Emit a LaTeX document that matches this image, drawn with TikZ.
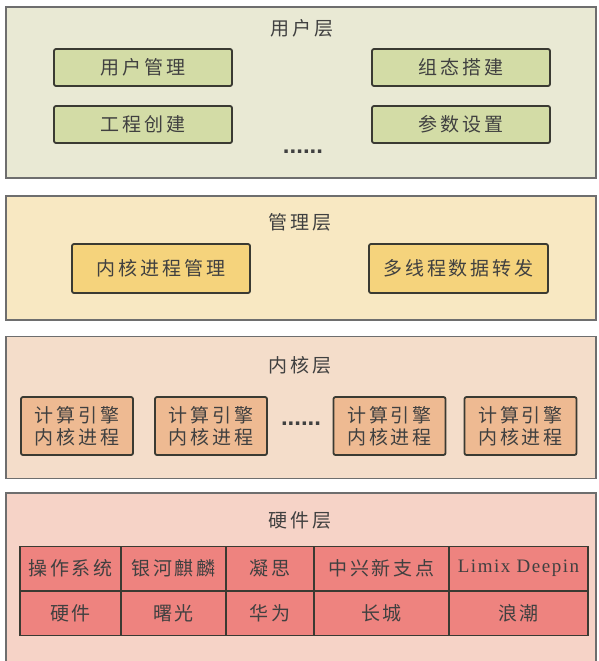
\documentclass[tikz,border=0pt]{standalone}
\usepackage{fontspec}
\newfontfamily\cjk[LetterSpace=15]{Noto Sans CJK SC}
\newfontfamily\latinser[LetterSpace=8]{Liberation Serif}
\newfontfamily\dotfont{Liberation Sans}
\definecolor{txt}{HTML}{404040}
\definecolor{laybd}{HTML}{6E6E6E}
\definecolor{boxbd}{HTML}{3A3A32}
\definecolor{lay1}{HTML}{E9E9D4}
\definecolor{box1}{HTML}{D3DCA6}
\definecolor{lay2}{HTML}{F8E8C2}
\definecolor{box2}{HTML}{F5D37C}
\definecolor{lay3}{HTML}{F4DDCA}
\definecolor{box3}{HTML}{EEBA92}
\definecolor{lay4}{HTML}{F6D3C7}
\definecolor{box4}{HTML}{EE837F}
\begin{document}
\begin{tikzpicture}[x=1pt,y=-1pt,
  layer/.style={draw=laybd,line width=1.6pt,inner sep=0pt},
  title/.style={text=txt,font=\cjk\fontsize{19}{22}\selectfont},
  ubox/.style={draw=boxbd,line width=1.8pt,rounded corners=2pt,inner sep=0pt,
    text=txt,font=\cjk\fontsize{19}{22}\selectfont},
  cell/.style={draw=boxbd,line width=1.5pt,fill=box4,inner sep=0pt,
    text=txt,font=\cjk\fontsize{19}{22}\selectfont,minimum height=44.5pt},
  dots/.style={text=txt,font=\dotfont\bfseries\fontsize{24}{24}\selectfont,inner sep=0pt}]
\useasboundingbox (0,0) rectangle (598,661);
\fill[white] (0,0) rectangle (598,661);
% layers
\node[layer,fill=lay1,minimum width=590pt,minimum height=171pt] (L1) at (301,92.5) {};
\node[layer,fill=lay2,minimum width=590pt,minimum height=124pt] (L2) at (301,258) {};
\node[layer,fill=lay3,minimum width=590pt,minimum height=142pt] (L3) at (301,407.5) {};
\node[layer,fill=lay4,minimum width=590pt,minimum height=180pt] (L4) at (301,583) {};
% user layer
\node[title] (t1) at (302,28) {用户层};
\node[ubox,fill=box1,minimum width=178pt,minimum height=37pt] (u1) at (143,67.5) {用户管理};
\node[ubox,fill=box1,minimum width=178pt,minimum height=37pt] (u2) at (143,124.5) {工程创建};
\node[ubox,fill=box1,minimum width=178pt,minimum height=37pt] (u3) at (461,67.5) {组态搭建};
\node[ubox,fill=box1,minimum width=178pt,minimum height=37pt] (u4) at (461,124.5) {参数设置};
\node[dots] (d1) at (303,152) {......};
% management layer
\node[title] (t2) at (300,222) {管理层};
\node[ubox,fill=box2,minimum width=178pt,minimum height=49pt] (m1) at (161,268.5) {内核进程管理};
\node[ubox,fill=box2,minimum width=179pt,minimum height=49pt] (m2) at (458.5,268.5) {多线程数据转发};
% kernel layer
\node[title] (t3) at (300,365) {内核层};
\foreach \n/\x in {k1/77,k2/211,k3/389.5,k4/520.5}{
  \node[ubox,fill=box3,minimum width=112pt,minimum height=58pt,align=center,
    font=\cjk\fontsize{19}{22}\selectfont] (\n) at (\x,426) {计算引擎\\内核进程};
}
\node[dots] (d2) at (301,424) {......};
% hardware layer
\node[title] (t4) at (300,520) {硬件层};
\node[cell,minimum width=101pt] (c11) at (70.5,568.5) {操作系统};
\node[cell,minimum width=105pt] (c12) at (173.5,568.5) {银河麒麟};
\node[cell,minimum width=88pt] (c13) at (270,568.5) {凝思};
\node[cell,minimum width=135pt] (c14) at (381.5,568.5) {中兴新支点};
\node[cell,minimum width=139pt,font=\latinser\fontsize{19}{22}\selectfont] (c15) at (518.5,568.5) {Limix Deepin};
\node[cell,minimum width=101pt] (c21) at (70.5,613) {硬件};
\node[cell,minimum width=105pt] (c22) at (173.5,613) {曙光};
\node[cell,minimum width=88pt] (c23) at (270,613) {华为};
\node[cell,minimum width=135pt] (c24) at (381.5,613) {长城};
\node[cell,minimum width=139pt] (c25) at (518.5,613) {浪潮};
\end{tikzpicture}
\end{document}
